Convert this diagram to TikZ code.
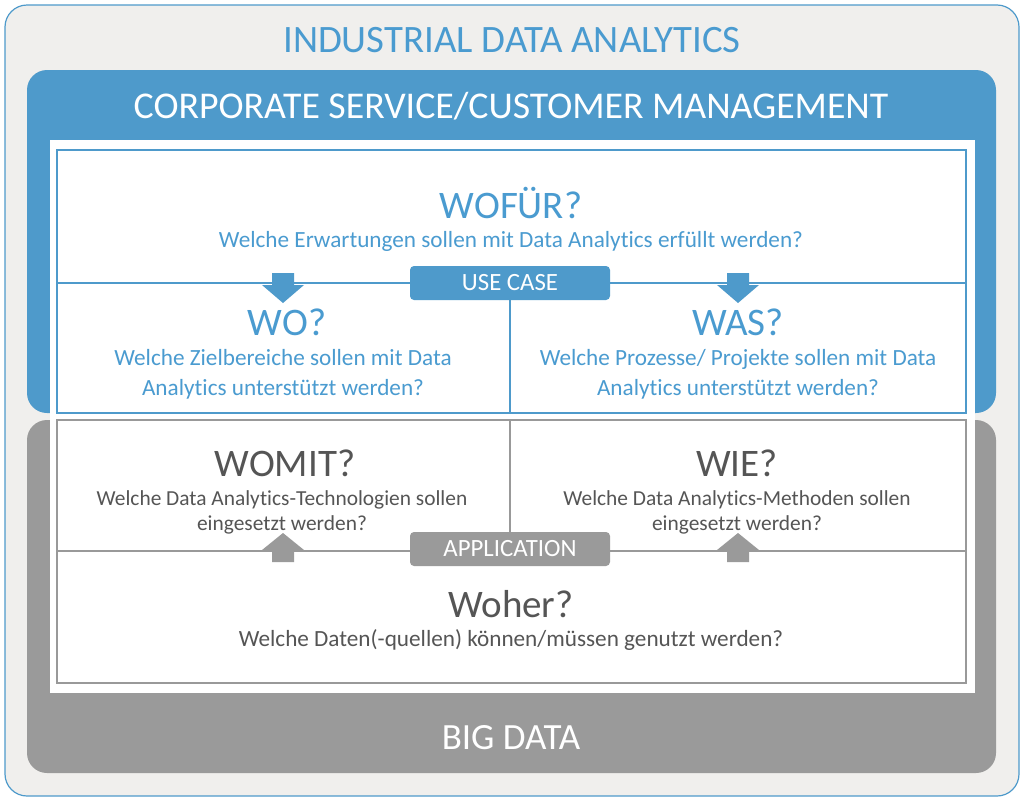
\documentclass[tikz,border=0pt]{standalone}
\usepackage{fontspec}
\setmainfont{Carlito}[Ligatures=NoCommon]
\definecolor{bgc}{HTML}{F0EFED}
\definecolor{bluep}{HTML}{4E9ACB}
\definecolor{bluet}{HTML}{4A9BD0}
\definecolor{grayp}{HTML}{9A9A9A}
\definecolor{grayt}{HTML}{555555}
\definecolor{grayl}{HTML}{999999}
\begin{document}
\begin{tikzpicture}[x=1pt,y=-1pt,
  fs/.style 2 args={font=\fontsize{#1}{#2}\selectfont},
  bluetext/.style={text=bluet},
  graytext/.style={text=grayt},
  bigq/.style={fs={39}{39}, inner sep=0pt},
  subq/.style={fs={23.2}{30}, inner sep=0pt, align=center},
  gsubq/.style={fs={21.4}{25}, inner sep=0pt, align=center},
  bline/.style={draw=bluep, line width=1.4pt},
  gline/.style={draw=grayl, line width=1.4pt},
  tag/.style={rounded corners=4pt, minimum width=200pt, minimum height=34pt, inner sep=0pt, text=white, fs={24.8}{24.8}},
  ]
\useasboundingbox (0,0) rectangle (1024,801);
\fill[white] (0,0) rectangle (1024,801);
% outer frame
\draw[fill=bgc, draw=bluep, line width=1.2pt, rounded corners=22pt] (5,5) rectangle (1019,796);
% panels
\fill[bluep, rounded corners=20pt] (27,70) rectangle (996,413);
\fill[grayp, rounded corners=20pt] (27,420) rectangle (996,773);
% white inner area
\fill[white] (50,140) rectangle (975,693);
% blue box
\draw[bline] (57,150) rectangle (966,413);
\coordinate (bl) at (57,283);
\coordinate (br) at (966,283);
\coordinate (bmid) at (510,283);
\coordinate (bbot) at (510,413);
\draw[bline] (bl) -- (br);
\draw[bline] (bmid) -- (bbot);
% gray box
\draw[gline] (57,420) rectangle (966,683);
\coordinate (gl) at (57,551);
\coordinate (gr) at (966,551);
\coordinate (gmid) at (510,551);
\coordinate (gtop) at (510,420);
\draw[gline] (gl) -- (gr);
\draw[gline] (gtop) -- (gmid);
% tags
\node[tag, fill=bluep] (usecase) at (510,283) {USE CASE};
\node[tag, fill=grayp] (application) at (510,549) {APPLICATION};
% arrows
\foreach \cx in {283,738}{
  \fill[bluep] (\cx-11,273) -- (\cx+11,273) -- (\cx+11,285) -- (\cx+21,285) -- (\cx,303) -- (\cx-21,285) -- (\cx-11,285) -- cycle;
  \fill[grayp] (\cx-11,562) -- (\cx+11,562) -- (\cx+11,550) -- (\cx+21,550) -- (\cx,533) -- (\cx-21,550) -- (\cx-11,550) -- cycle;
}
% texts
\node[fs={38.8}{38.8}, text=bluet, inner sep=0pt] (title) at (512,40) {INDUSTRIAL DATA ANALYTICS};
\node[fs={37.8}{37.8}, text=white, inner sep=0pt] (corp) at (511,106) {CORPORATE SERVICE/CUSTOMER MANAGEMENT};
\node[bigq, bluetext] (wofuer) at (511,203) {WOFÜR?};
\node[subq, bluetext] (wofuert) at (511,241) {Welche Erwartungen sollen mit Data Analytics erfüllt werden?};
\node[bigq, bluetext] (wo) at (287,322) {WO?};
\node[subq, bluetext] (wot) at (283,374) {Welche Zielbereiche sollen mit Data\\Analytics unterstützt werden?};
\node[bigq, bluetext] (was) at (738,322) {WAS?};
\node[subq, bluetext] (wast) at (738,374) {Welche Prozesse/ Projekte sollen mit Data\\Analytics unterstützt werden?};
\node[bigq, graytext] (womit) at (285,463) {WOMIT?};
\node[gsubq, graytext] (womitt) at (282,512) {Welche Data Analytics-Technologien sollen\\eingesetzt werden?};
\node[bigq, graytext] (wie) at (737,463) {WIE?};
\node[gsubq, graytext] (wiet) at (737,512) {Welche Data Analytics-Methoden sollen\\eingesetzt werden?};
\node[bigq, graytext] (woher) at (511,604) {Woher?};
\node[subq, graytext] (wohert) at (511,640) {Welche Daten(-quellen) können/müssen genutzt werden?};
\node[fs={37}{37}, text=white, inner sep=0pt] (bigdata) at (511,738) {BIG DATA};
\end{tikzpicture}
\end{document}
